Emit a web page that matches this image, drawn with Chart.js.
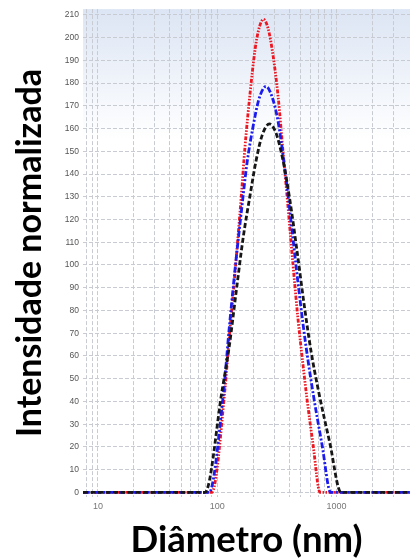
<!DOCTYPE html>
<html>
<head>
<meta charset="utf-8">
<script src="https://cdn.jsdelivr.net/npm/chart.js@4.4.1/dist/chart.umd.min.js"></script>
<style>
  html, body { margin: 0; padding: 0; background: #fff; }
  #caixa { width: 410px; height: 558px; position: relative; }
</style>
</head>
<body>
<div id="caixa"><canvas id="graficoDLS"></canvas></div>
<script>
// Curva vermelha: diâmetro (nm) e intensidade
const diamVermelho = [7.5, 90, 116.5, 126, 136, 147, 159, 171, 189, 208, 224, 244, 267, 294, 324, 356, 393, 432, 476, 524, 563, 636, 728, 4130];
const intVermelho  = [0, 0, 46, 68, 87, 108, 130, 152, 176, 195, 204, 208, 204, 192, 174, 150, 125, 100, 76, 56, 42, 21, 0, 0];

// Curva azul
const diamAzul = [7.5, 85.5, 112, 126, 141, 159, 178, 200, 224, 257, 288, 324, 363, 408, 464, 524, 577, 639, 756, 894, 4130];
const intAzul  = [0, 0, 42, 72, 98, 123, 145, 161, 173, 178.5, 174, 163, 145, 123, 97, 74, 58, 43, 21, 0, 0];

// Curva preta
const diamPreto = [7.5, 79, 110, 126, 144, 165, 189, 212, 238, 274, 311, 356, 408, 467, 534, 612, 704, 877, 1091, 4130];
const intPreto  = [0, 0, 45, 64, 88, 112, 131, 146, 157, 162, 158, 146, 128, 106, 83, 62, 45, 22, 0, 0];

// Marcas dos eixos
const ticksX = [8, 9, 10, 20, 30, 40, 50, 60, 70, 80, 90, 100, 200, 300, 400, 500, 600, 700, 800, 900, 1000, 2000, 3000];
const rotulosX = [10, 100, 1000];
const ticksY = [0, 10, 20, 30, 40, 50, 60, 70, 80, 90, 100, 110, 120, 130, 140, 150, 160, 170, 180, 190, 200, 210];

function pontos(diam, inten) {
    return diam.map((d, i) => ({ x: d, y: inten[i] }));
}

// Fundo azulado no topo da área do gráfico
const fundoGradiente = {
    id: 'fundoGradiente',
    beforeDraw(chart) {
        const { ctx, chartArea: a } = chart;
        const g = ctx.createLinearGradient(0, a.top, 0, a.top + 130);
        g.addColorStop(0, '#dce5f4');
        g.addColorStop(1, '#ffffff');
        ctx.save();
        ctx.fillStyle = g;
        ctx.fillRect(a.left, a.top, a.right - a.left, a.bottom - a.top);
        ctx.restore();
    }
};

Chart.defaults.font.family = "'Liberation Sans', Arial, sans-serif";

const linhaBase = {
    pointRadius: 0,
    borderWidth: 2.8,
    fill: false,
    cubicInterpolationMode: 'monotone'
};

const ctx = document.getElementById('graficoDLS').getContext('2d');

new Chart(ctx, {
    type: 'line',
    data: {
        datasets: [
            Object.assign({ label: 'Preto', data: pontos(diamPreto, intPreto), borderColor: '#161616', borderDash: [5, 2.5] }, linhaBase),
            Object.assign({ label: 'Azul', data: pontos(diamAzul, intAzul), borderColor: '#1b1bf0', borderDash: [6, 2, 2, 2] }, linhaBase),
            Object.assign({ label: 'Vermelho', data: pontos(diamVermelho, intVermelho), borderColor: '#ee1620', borderDash: [4, 1.5, 1.5, 1.5, 1.5, 1.5] }, linhaBase)
        ]
    },
    options: {
        responsive: true,
        maintainAspectRatio: false,
        animation: false,
        layout: { padding: { top: 9, right: 0, left: 0, bottom: 0 } },
        plugins: {
            legend: { display: false },
            tooltip: { enabled: false }
        },
        scales: {
            x: {
                type: 'logarithmic',
                min: 7.5,
                max: 4130,
                afterBuildTicks: (scale) => { scale.ticks = ticksX.map(v => ({ value: v })); },
                afterFit: (scale) => { scale.height = 61; },
                grid: { color: '#c8ccd2', lineWidth: 1, drawTicks: false },
                border: { display: false, dash: [4, 2] },
                ticks: {
                    autoSkip: false,
                    maxRotation: 0,
                    padding: 4,
                    color: '#777',
                    font: { size: 9 },
                    callback: (v) => rotulosX.includes(v) ? String(v) : ''
                },
                title: {
                    display: true,
                    text: 'Diâmetro (nm)',
                    color: '#000',
                    font: { family: 'Lato', size: 36.5, weight: 'bold', lineHeight: 1 },
                    padding: { top: 0, bottom: 0 }
                }
            },
            y: {
                min: -2,
                max: 212.5,
                afterBuildTicks: (scale) => { scale.ticks = ticksY.map(v => ({ value: v })); },
                afterFit: (scale) => { scale.width = 83; },
                grid: { color: '#c8ccd2', lineWidth: 1, drawTicks: false },
                border: { display: false, dash: [4, 2] },
                ticks: {
                    autoSkip: false,
                    padding: 4,
                    color: '#555',
                    font: { size: 8.5 }
                },
                title: {
                    display: true,
                    text: 'Intensidade normalizada',
                    color: '#000',
                    font: { family: 'Lato', size: 34, weight: 'bold', lineHeight: 1 },
                    padding: { top: 13, bottom: 0 }
                }
            }
        }
    },
    plugins: [fundoGradiente]
});
</script>
</body>
</html>
